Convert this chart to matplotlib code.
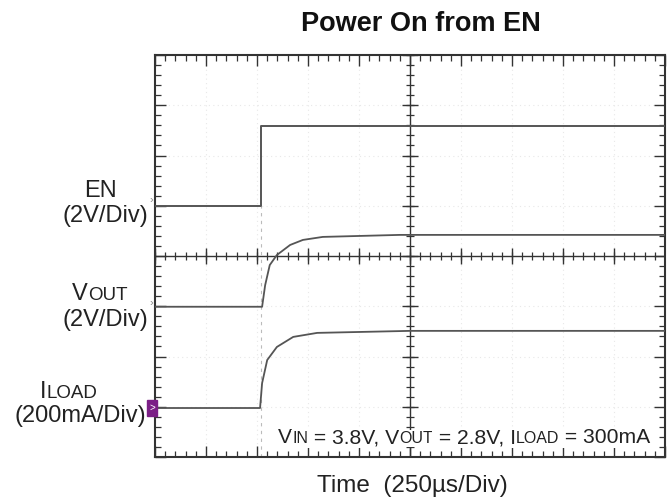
import numpy as np
import matplotlib
matplotlib.use("Agg")
import matplotlib.pyplot as plt
from matplotlib.patches import Rectangle

plt.rcParams['font.family'] = ['Liberation Sans', 'DejaVu Sans']

# ---- data (in scope divisions) ----
en_t = [0.0, 2.08, 2.08, 10.0]
en_v = [5.0, 5.0, 6.58, 6.58]

vout_t = [0.0, 2.10, 2.16, 2.25, 2.39, 2.65, 2.90, 3.29, 4.80, 10.0]
vout_v = [2.99, 2.99, 3.42, 3.82, 4.02, 4.22, 4.32, 4.38, 4.42, 4.42]

iload_t = [0.0, 2.06, 2.10, 2.20, 2.39, 2.71, 3.18, 5.0, 10.0]
iload_v = [0.975, 0.975, 1.47, 1.93, 2.19, 2.39, 2.47, 2.51, 2.51]

trigger_t = 2.08
n_xdiv = 10
n_ydiv = 8

W, H = 668, 503
fig = plt.figure(figsize=(W / 100, H / 100), dpi=100)
ax = fig.add_axes([155 / W, (H - 457) / H, 510 / W, 402 / H])
ax.set_xlim(0, n_xdiv)
ax.set_ylim(0, n_ydiv)

fc = '#333333'
# faint graticule
for xv in range(1, n_xdiv):
    ax.axvline(xv, color='#e8e8e8', lw=0.8, ls=(0, (1, 3)), zorder=0)
for yv in range(1, n_ydiv):
    ax.axhline(yv, color='#e8e8e8', lw=0.8, ls=(0, (1, 3)), zorder=0)

# center lines with cross ticks
ax.axhline(n_ydiv / 2, color=fc, lw=1.0, zorder=1)
ax.axvline(n_xdiv / 2, color=fc, lw=1.0, zorder=1)
mx = np.arange(0, n_xdiv + 0.01, 0.2)
my = np.arange(0, n_ydiv + 0.01, 0.2)
ax.plot(mx, np.full_like(mx, n_ydiv / 2), ls='none', marker='|', ms=6, mew=0.9, color=fc)
ax.plot(np.arange(0, n_xdiv + 1), np.full(n_xdiv + 1, n_ydiv / 2), ls='none', marker='|', ms=11, mew=1.0, color=fc)
ax.plot(np.full_like(my, n_xdiv / 2), my, ls='none', marker='_', ms=6, mew=0.9, color=fc)
ax.plot(np.full(n_ydiv + 1, n_xdiv / 2), np.arange(0, n_ydiv + 1), ls='none', marker='_', ms=11, mew=1.0, color=fc)

# trigger line
ax.plot([trigger_t, trigger_t], [0, en_v[0]], color='#bbbbbb', lw=0.8, ls=(0, (3, 4)), zorder=1)

tc = '#555555'
ax.plot(en_t, en_v, color=tc, lw=1.4, zorder=3)
ax.plot(vout_t, vout_v, color=tc, lw=1.3, zorder=3)
ax.plot(iload_t, iload_v, color=tc, lw=1.3, zorder=3)

ax.set_xticks(np.arange(0, n_xdiv + 1))
ax.set_yticks(np.arange(0, n_ydiv + 1))
ax.set_xticks(mx, minor=True)
ax.set_yticks(my, minor=True)
ax.tick_params(which='both', direction='in', top=True, right=True,
               labelbottom=False, labelleft=False, color=fc)
ax.tick_params(which='major', length=8, width=1.0)
ax.tick_params(which='minor', length=4, width=0.9)
for s in ax.spines.values():
    s.set_color(fc)
    s.set_linewidth(1.5)


def chain(segs, x, y, color='#222222', bg=None):
    """Baseline-aligned text segments, each placed after the previous one."""
    prev = None
    bbox = dict(fc=bg, ec='none', pad=0.5) if bg else None
    for s, fs in segs:
        if prev is None:
            prev = ax.annotate(s, xy=(x, H - y), xycoords='figure pixels', fontsize=fs,
                               ha='left', va='baseline', color=color, annotation_clip=False,
                               bbox=bbox, zorder=6)
        else:
            prev = ax.annotate(s, xy=(1, H - y), xycoords=(prev, 'figure pixels'), fontsize=fs,
                               ha='left', va='baseline', color=color, annotation_clip=False,
                               bbox=bbox, zorder=6)


fig.text(421 / W, 1 - 31 / H, 'Power On from EN', fontsize=19.5, fontweight='bold',
         ha='center', va='baseline', color='#111111')
fig.text(412 / W, 1 - 492 / H, 'Time  (250\u00b5s/Div)', fontsize=17.5,
         ha='center', va='baseline', color='#222222')

fig.text(100 / W, 1 - 197 / H, 'EN', fontsize=17, ha='center', va='baseline', color='#222222')
fig.text(148 / W, 1 - 222 / H, '(2V/Div)', fontsize=17, ha='right', va='baseline', color='#222222')
chain([('V', 17), ('OUT', 13.5)], 72, 300)
fig.text(148 / W, 1 - 326 / H, '(2V/Div)', fontsize=17, ha='right', va='baseline', color='#222222')
chain([('I', 17), ('LOAD', 13.5)], 40, 398)
fig.text(146 / W, 1 - 422 / H, '(200mA/Div)', fontsize=17, ha='right', va='baseline', color='#222222')

chain([('V', 15.2), ('IN', 11.5), (' = 3.8V, V', 15.2), ('OUT', 11.5), (' = 2.8V, I', 15.2),
       ('LOAD', 11.5), (' = 300mA', 15.2)], 278, 443, bg='white')

# channel markers
fig.text(150 / W, 1 - 203 / H, '\u203a', fontsize=8, color='#888888', ha='left', va='baseline')
fig.text(150 / W, 1 - 306 / H, '\u203a', fontsize=8, color='#888888', ha='left', va='baseline')
fig.add_artist(Rectangle((147 / W, (H - 416) / H), 10 / W, 16 / H,
                         transform=fig.transFigure, color='#7b1f86', zorder=5))
fig.text(152 / W, 1 - 408 / H, '>', fontsize=7, color='white', ha='center', va='center', zorder=6)

fig.savefig('out.png', dpi=100)
